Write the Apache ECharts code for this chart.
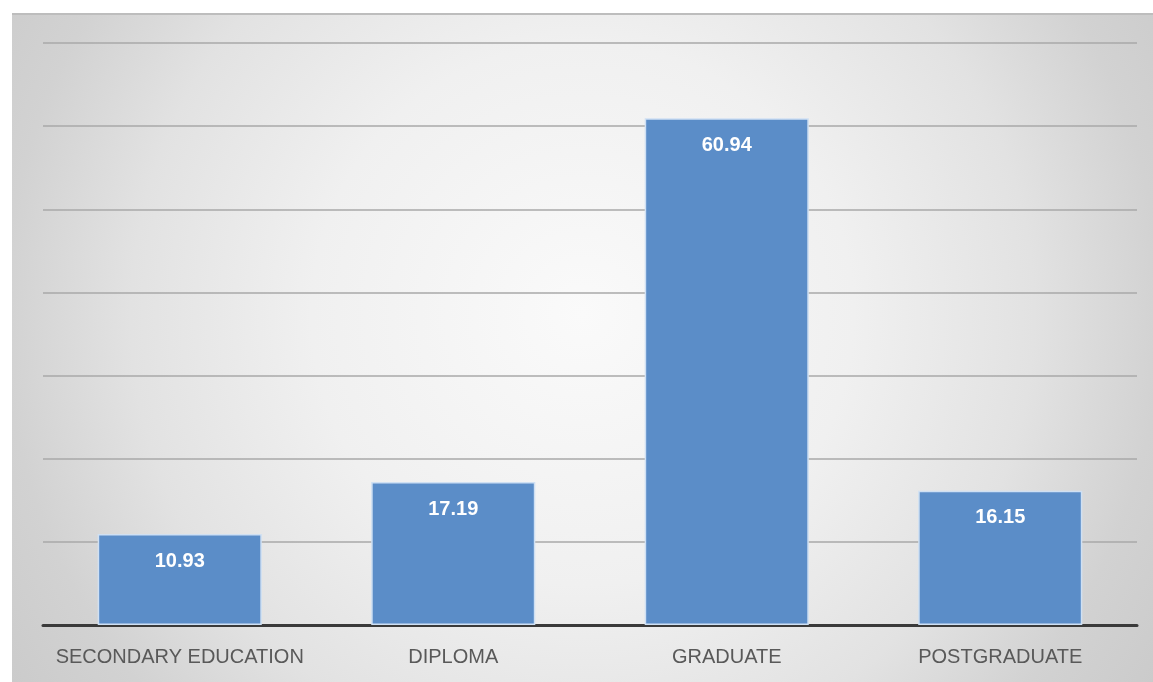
<!DOCTYPE html>
<html>
<head>
<meta charset="utf-8">
<script src="https://cdn.jsdelivr.net/npm/echarts@6/dist/echarts.min.js"></script>
<style>
    html, body { margin: 0; padding: 0; background: #ffffff; }
    #chart { width: 1153px; height: 682px; }
</style>
</head>
<body>
<div id="chart"></div>
<script>
// data
const categories = ['SECONDARY EDUCATION', 'DIPLOMA', 'GRADUATE', 'POSTGRADUATE'];
const shares = [10.93, 17.19, 60.94, 16.15];

const chart = echarts.init(document.getElementById('chart'));

const option = {
    backgroundColor: '#ffffff',
    animation: false,
    graphic: [{
        type: 'rect',
        z: -10,
        silent: true,
        shape: { x: 12, y: 13, width: 1141, height: 669 },
        style: {
            fill: {
                type: 'radial',
                x: 0.5, y: 0.45, r: 1.35,
                colorStops: [
                    { offset: 0, color: '#fafafa' },
                    { offset: 0.3, color: '#f0f0f0' },
                    { offset: 0.5, color: '#e2e2e2' },
                    { offset: 0.64, color: '#d2d2d2' },
                    { offset: 0.8, color: '#c8c8c8' },
                    { offset: 1, color: '#c4c4c4' }
                ]
            },
            stroke: null
        }
    }, {
        type: 'line',
        z: -9,
        silent: true,
        shape: { x1: 12, y1: 14, x2: 1153, y2: 14 },
        style: { stroke: '#bdbdbd', lineWidth: 2 }
    }],
    grid: {
        left: 43,
        right: 16,
        top: 43,
        bottom: 57
    },
    xAxis: {
        type: 'category',
        data: categories,
        axisTick: { show: false },
        axisLine: {
            lineStyle: { color: '#3a3a3a', width: 3 }
        },
        axisLabel: {
            interval: 0,
            color: '#595959',
            fontSize: 20,
            fontFamily: 'Liberation Sans',
            margin: 22
        }
    },
    yAxis: {
        type: 'value',
        min: 0,
        max: 70,
        interval: 10,
        axisLabel: { show: false },
        axisTick: { show: false },
        axisLine: { show: false },
        splitLine: {
            lineStyle: { color: '#a9a9a9', width: 1.5 }
        }
    },
    series: [{
        type: 'bar',
        data: shares,
        barCategoryGap: '40%',
        itemStyle: {
            color: '#5b8dc8',
            borderColor: '#cfe0f3',
            borderWidth: 1.5
        },
        label: {
            show: true,
            position: 'insideTop',
            distance: 17,
            color: '#ffffff',
            fontSize: 20,
            fontWeight: 'bold',
            fontFamily: 'Liberation Sans',
            formatter: p => p.value.toFixed(2)
        }
    }]
};

chart.setOption(option);
</script>
</body>
</html>
